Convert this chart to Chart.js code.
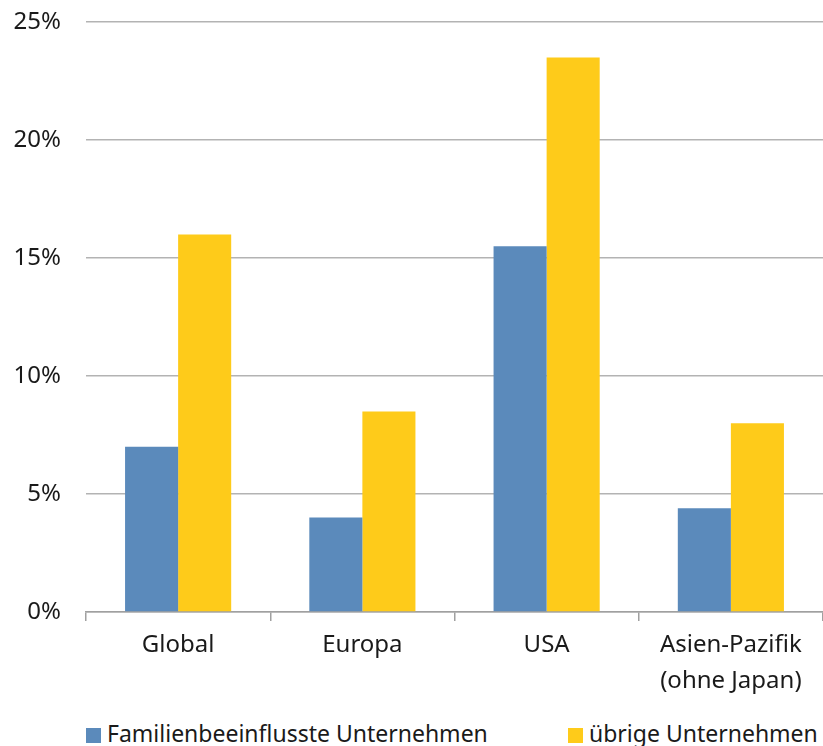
<!DOCTYPE html>
<html>
<head>
<meta charset="utf-8">
<script src="https://cdn.jsdelivr.net/npm/chart.js@4"></script>
<style>
  body { margin: 0; background: #fff; font-family: "Noto Sans", sans-serif; }
  #wrap { position: relative; width: 823px; height: 705px; }
  #legend { position: absolute; top: 717px; left: 0; width: 823px; height: 29px; font-size: 23px; color: #1a1a1a; }
  .item { position: absolute; top: 0; white-space: nowrap; }
  .box { display: inline-block; width: 15px; height: 15px; margin-right: 6px; vertical-align: -1px; }
</style>
</head>
<body>
<div id="wrap"><canvas id="chart"></canvas></div>
<div id="legend"></div>
<script>
// --- Data ---
const categories = ['Global', 'Europa', 'USA', ['Asien-Pazifik', '(ohne Japan)']];
const familyValues = [7.0, 4.0, 15.5, 4.4];
const otherValues = [16.0, 8.5, 23.5, 8.0];
const seriesLabels = ['Familienbeeinflusste Unternehmen', 'übrige Unternehmen'];
const seriesColors = ['#5b8abb', '#fecb1a'];
const yTicks = [0, 5, 10, 15, 20, 25];

const ctx = document.getElementById('chart').getContext('2d');

new Chart(ctx, {
      type: 'bar',
      data: {
            labels: categories,
            datasets: [
                  { label: seriesLabels[0], data: familyValues, backgroundColor: seriesColors[0] },
                  { label: seriesLabels[1], data: otherValues, backgroundColor: seriesColors[1] }
            ]
      },
      options: {
            responsive: true,
            maintainAspectRatio: false,
            animation: false,
            layout: { padding: { top: 22, right: 0, left: 0, bottom: 0 } },
            datasets: { bar: { categoryPercentage: 0.576, barPercentage: 1.0 } },
            scales: {
                  y: {
                        min: 0,
                        max: 25,
                        afterBuildTicks: axis => { axis.ticks = yTicks.map(v => ({ value: v })); },
                        afterFit: axis => {
                              axis.width = 86;
                              axis.paddingTop = 0;   // let layout padding decide where 25% sits
                              axis.paddingBottom = 0;
                        },
                        ticks: {
                              padding: 25,
                              color: '#1a1a1a',
                              font: { family: 'Noto Sans', size: 24 },
                              callback: v => v + '%'
                        },
                        grid: { color: '#b3b3b3', lineWidth: 1.5, drawTicks: false },
                        border: { display: false }
                  },
                  x: {
                        ticks: {
                              padding: 6,
                              color: '#1a1a1a',
                              font: { family: 'Noto Sans', size: 24, lineHeight: 1.5 }
                        },
                        grid: { drawOnChartArea: false, drawTicks: true, tickLength: 9, color: '#a0a0a0', lineWidth: 1.5 },
                        border: { color: '#a0a0a0', width: 1.5 }
                  }
            },
            plugins: {
                  legend: { display: false },
                  tooltip: { enabled: false }
            }
      }
});

// HTML legend built from the series
const legendPos = [86, 568];
const legend = document.getElementById('legend');
seriesLabels.forEach((label, i) => {
      const item = document.createElement('div');
      item.className = 'item';
      item.style.left = legendPos[i] + 'px';
      item.innerHTML = '<span class="box" style="background:' + seriesColors[i] + '"></span>' + label;
      legend.appendChild(item);
});
</script>
</body>
</html>
